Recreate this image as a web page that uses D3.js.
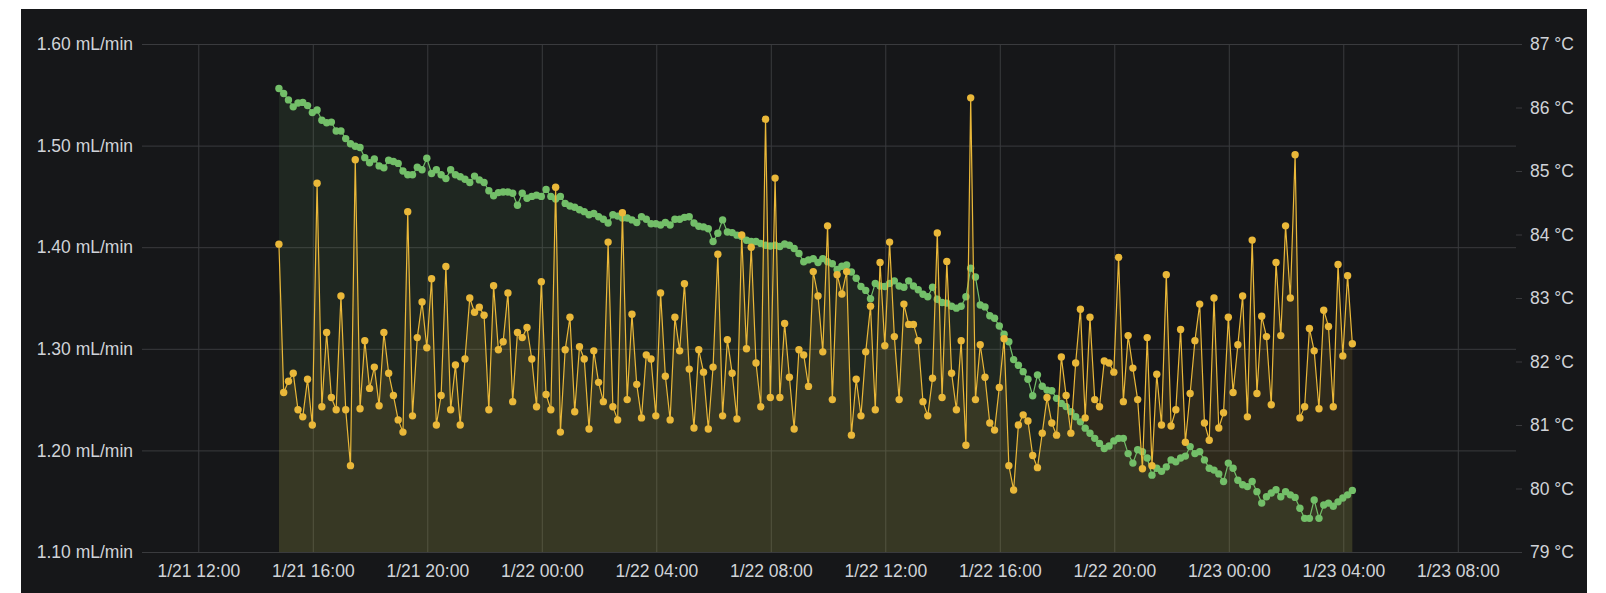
<!DOCTYPE html>
<html>
<head>
<meta charset="utf-8">
<script src="https://cdn.jsdelivr.net/npm/d3@7"></script>
<style>
  html, body { margin: 0; padding: 0; background: #ffffff; }
  svg { display: block; font-family: Roboto, "Noto Sans", sans-serif; }
</style>
</head>
<body>
<svg id="chart" width="1606" height="593"></svg>
<script>
// ---------------- DATA ----------------
const seriesStart = "2021-01-21T14:49";   // first sample
const sampleMinutes = 10;                  // sampling interval

// Flow rate (mL/min), left axis
const flowRate = [
  1.403,1.257,1.268,1.276,1.240,1.233,1.270,1.225,1.463,1.243,
  1.316,1.252,1.240,1.352,1.240,1.185,1.486,1.241,1.308,1.261,
  1.282,1.244,1.316,1.276,1.254,1.230,1.218,1.435,1.234,1.311,
  1.346,1.301,1.369,1.225,1.254,1.381,1.240,1.284,1.225,1.290,
  1.350,1.336,1.341,1.333,1.240,1.362,1.299,1.307,1.355,1.248,
  1.316,1.311,1.321,1.290,1.243,1.366,1.255,1.240,1.459,1.218,
  1.299,1.331,1.238,1.302,1.290,1.221,1.298,1.267,1.248,1.405,
  1.243,1.230,1.434,1.250,1.334,1.265,1.232,1.294,1.290,1.234,
  1.355,1.273,1.230,1.331,1.298,1.364,1.280,1.222,1.299,1.277,
  1.221,1.282,1.393,1.234,1.309,1.276,1.231,1.412,1.300,1.400,
  1.286,1.243,1.526,1.252,1.468,1.252,1.325,1.272,1.221,1.299,
  1.294,1.263,1.376,1.352,1.297,1.421,1.250,1.373,1.354,1.376,
  1.215,1.270,1.234,1.297,1.342,1.240,1.385,1.303,1.405,1.312,
  1.250,1.344,1.324,1.324,1.308,1.248,1.234,1.271,1.414,1.252,
  1.386,1.276,1.240,1.308,1.205,1.547,1.250,1.304,1.272,1.227,
  1.220,1.262,1.310,1.185,1.161,1.225,1.235,1.229,1.195,1.183,
  1.217,1.252,1.227,1.215,1.292,1.254,1.217,1.286,1.339,1.232,
  1.331,1.250,1.243,1.288,1.286,1.277,1.390,1.248,1.313,1.281,
  1.250,1.182,1.311,1.185,1.275,1.225,1.373,1.224,1.240,1.319,
  1.208,1.256,1.308,1.344,1.227,1.210,1.350,1.222,1.237,1.331,
  1.257,1.304,1.352,1.233,1.407,1.256,1.332,1.312,1.245,1.385,
  1.313,1.421,1.350,1.491,1.232,1.243,1.320,1.298,1.241,1.338,
  1.322,1.243,1.383,1.293,1.372,1.305
];

// Temperature (°C), right axis
const temperature = [
  86.30,86.22,86.12,86.01,86.07,86.08,86.03,85.92,85.96,85.80,
  85.76,85.77,85.63,85.63,85.51,85.43,85.39,85.37,85.21,85.13,
  85.19,85.08,85.05,85.17,85.15,85.12,85.00,84.94,84.94,85.06,
  85.02,85.20,84.96,85.02,84.94,84.88,85.02,84.94,84.91,84.87,
  84.82,84.92,84.86,84.82,84.69,84.61,84.66,84.67,84.67,84.65,
  84.46,84.65,84.57,84.60,84.62,84.60,84.71,84.60,84.56,84.60,
  84.49,84.45,84.43,84.39,84.36,84.31,84.33,84.28,84.24,84.18,
  84.31,84.29,84.26,84.26,84.23,84.19,84.28,84.24,84.17,84.17,
  84.15,84.19,84.15,84.24,84.24,84.27,84.28,84.18,84.13,84.12,
  84.09,83.89,84.02,84.23,84.04,84.03,83.99,83.97,83.91,83.89,
  83.89,83.86,83.83,83.82,83.83,83.81,83.85,83.83,83.78,83.70,
  83.57,83.60,83.62,83.56,83.62,83.57,83.54,83.45,83.50,83.52,
  83.41,83.31,83.18,83.12,82.99,83.23,83.19,83.18,83.23,83.27,
  83.19,83.17,83.27,83.19,83.13,83.06,83.02,83.17,82.98,82.93,
  82.92,82.87,82.84,82.87,83.02,83.47,83.33,82.89,82.86,82.72,
  82.68,82.56,82.43,82.31,82.03,81.94,81.84,81.72,81.46,81.79,
  81.61,81.55,81.54,81.42,81.34,81.29,81.21,81.13,81.05,80.95,
  80.87,80.79,80.71,80.63,80.67,80.75,80.79,80.79,80.55,80.40,
  80.61,80.58,80.48,80.21,80.32,80.27,80.34,80.45,80.42,80.48,
  80.51,80.66,80.55,80.58,80.45,80.32,80.29,80.23,80.11,80.40,
  80.32,80.13,80.06,80.03,80.11,79.95,79.77,79.87,79.93,79.98,
  79.87,79.95,79.90,79.86,79.69,79.53,79.53,79.82,79.53,79.74,
  79.77,79.72,79.79,79.85,79.90,79.97
];

const timeDomain = ["2021-01-21T10:02", "2021-01-23T10:02"];
const xTickTimes = [
  "2021-01-21T12:00","2021-01-21T16:00","2021-01-21T20:00","2021-01-22T00:00",
  "2021-01-22T04:00","2021-01-22T08:00","2021-01-22T12:00","2021-01-22T16:00",
  "2021-01-22T20:00","2021-01-23T00:00","2021-01-23T04:00","2021-01-23T08:00"
];
const flowTicks = [1.10, 1.20, 1.30, 1.40, 1.50, 1.60];
const flowDomain = [1.10, 1.60];
const tempTicks = [79, 80, 81, 82, 83, 84, 85, 86, 87];
const tempDomain = [79, 87];

// ---------------- STYLE ----------------
const C = {
  panel: "#161719",
  grid: "#3a3b3e",
  text: "#d0d3d8",
  yellow: "#EAB839",
  green: "#73BF69"
};
const FONT = 17.5;
const R = 3.7;

// ---------------- CHART ----------------
const parse = d3.timeParse("%Y-%m-%dT%H:%M");
const t0 = parse(seriesStart);
const times = flowRate.map((_, i) => d3.timeMinute.offset(t0, i * sampleMinutes));
const flowData = flowRate.map((v, i) => ({ t: times[i], v }));
const tempData = temperature.map((v, i) => ({ t: times[i], v }));

const plot = { left: 142, right: 1516, top: 44, bottom: 552 };

const svg = d3.select("#chart");
svg.append("rect").attr("x", 21).attr("y", 9).attr("width", 1566).attr("height", 584).attr("fill", C.panel);

const x = d3.scaleTime().domain(timeDomain.map(parse)).range([plot.left, plot.right]);
const yL = d3.scaleLinear().domain(flowDomain).range([plot.bottom, plot.top]);
const yR = d3.scaleLinear().domain(tempDomain).range([plot.bottom, plot.top]);

function styleAxis(g) {
  g.select(".domain").remove();
  g.selectAll(".tick line").attr("stroke", C.grid).attr("stroke-width", 1);
  g.selectAll(".tick text").attr("fill", C.text).attr("font-size", FONT).attr("font-weight", 500);
}

// x axis + vertical grid
svg.append("g")
  .attr("transform", `translate(0,${plot.bottom})`)
  .call(d3.axisBottom(x)
    .tickValues(xTickTimes.map(parse))
    .tickSize(-(plot.bottom - plot.top))
    .tickPadding(13)
    .tickFormat(d3.timeFormat("%-m/%-d %H:%M")))
  .call(styleAxis);

// left axis + horizontal grid
svg.append("g")
  .attr("transform", `translate(${plot.left},0)`)
  .call(d3.axisLeft(yL)
    .tickValues(flowTicks)
    .tickSize(-(plot.right - plot.left))
    .tickPadding(9)
    .tickFormat(d => d.toFixed(2) + " mL/min"))
  .call(styleAxis);

// right axis
svg.append("g")
  .attr("transform", `translate(${plot.right},0)`)
  .call(d3.axisRight(yR)
    .tickValues(tempTicks)
    .tickSize(6)
    .tickPadding(8)
    .tickFormat(d => d + " °C"))
  .call(styleAxis);

// areas
const areaTemp = d3.area().x(d => x(d.t)).y0(plot.bottom).y1(d => yR(d.v));
const areaFlow = d3.area().x(d => x(d.t)).y0(plot.bottom).y1(d => yL(d.v));
svg.append("path").datum(tempData).attr("d", areaTemp).attr("fill", C.green).attr("fill-opacity", 0.1);
svg.append("path").datum(flowData).attr("d", areaFlow).attr("fill", C.yellow).attr("fill-opacity", 0.12);

// temperature line + points
svg.append("path").datum(tempData)
  .attr("d", d3.line().x(d => x(d.t)).y(d => yR(d.v)))
  .attr("fill", "none").attr("stroke", C.green).attr("stroke-width", 1.2);
svg.append("g").selectAll("circle").data(tempData).join("circle")
  .attr("cx", d => x(d.t)).attr("cy", d => yR(d.v)).attr("r", R).attr("fill", C.green);

// flow line + points
svg.append("path").datum(flowData)
  .attr("d", d3.line().x(d => x(d.t)).y(d => yL(d.v)))
  .attr("fill", "none").attr("stroke", C.yellow).attr("stroke-width", 1.2);
svg.append("g").selectAll("circle").data(flowData).join("circle")
  .attr("cx", d => x(d.t)).attr("cy", d => yL(d.v)).attr("r", R).attr("fill", C.yellow);
</script>
</body>
</html>
